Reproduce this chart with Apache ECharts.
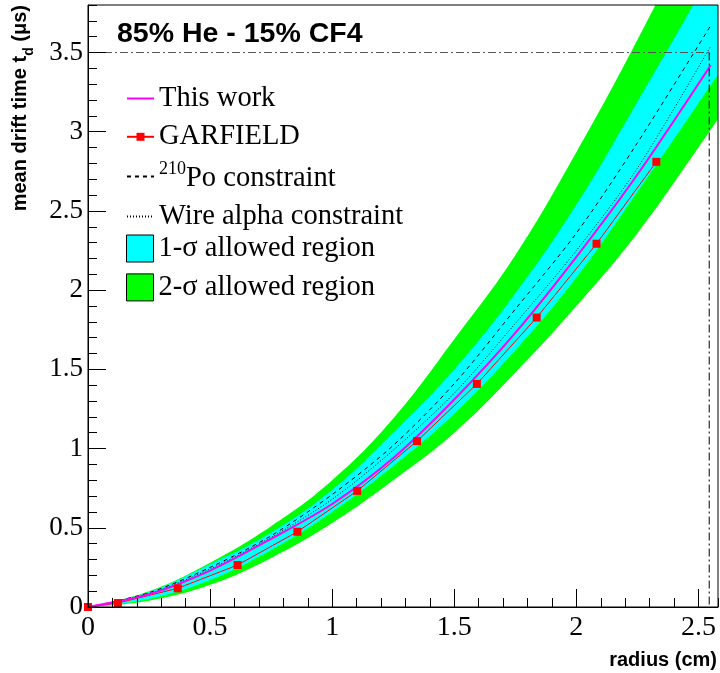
<!DOCTYPE html>
<html><head><meta charset="utf-8">
<script src="https://cdn.jsdelivr.net/npm/echarts@6/dist/echarts.min.js"></script>
<style>html,body{margin:0;padding:0;background:#fff}#c{width:720px;height:673px}</style>
</head><body><div id="c"></div>
<script>
// ---- data ----
const R_BAND   = [0, 0.25, 0.5, 0.75, 1.0, 1.25, 1.5, 1.75, 2.0, 2.25, 2.5, 2.58];
const GREEN_LO = [0, 0.04, 0.14, 0.31, 0.53, 0.80, 1.10, 1.48, 1.90, 2.36, 2.90, 3.08];
const GREEN_HI = [0, 0.10, 0.28, 0.51, 0.80, 1.19, 1.69, 2.22, 2.87, 3.58, 4.35, 4.62];
const CYAN_LO  = [0, 0.05, 0.17, 0.36, 0.60, 0.89, 1.22, 1.62, 2.08, 2.62, 3.18, 3.36];
const CYAN_HI  = [0, 0.095, 0.27, 0.47, 0.74, 1.10, 1.50, 1.98, 2.54, 3.19, 3.86, 4.10];

const R_LINE    = [0, 0.25, 0.5, 0.75, 1.0, 1.25, 1.5, 1.75, 2.0, 2.25, 2.55];
const THIS_WORK = [0, 0.08, 0.23, 0.43, 0.65, 0.94, 1.31, 1.73, 2.21, 2.73, 3.42];
const PO_CONSTR = [0, 0.09, 0.25, 0.45, 0.71, 1.02, 1.41, 1.88, 2.36, 2.93, 3.67];
const WIRE_CONSTR = [0, 0.085, 0.24, 0.44, 0.68, 0.99, 1.35, 1.79, 2.25, 2.77, 3.54];

const R_GARF = [0, 0.1225, 0.3675, 0.6125, 0.8575, 1.1025, 1.3475, 1.5925, 1.8375, 2.0825, 2.3275];
const GARF   = [0, 0.025, 0.118, 0.265, 0.475, 0.733, 1.047, 1.408, 1.827, 2.293, 2.81];

const REF_R = 2.544;   // dash-dotted vertical marker
const REF_T = 3.5;     // dash-dotted horizontal marker

const X_MIN = 0, X_MAX = 2.58, Y_MIN = 0, Y_MAX = 3.8;

const NAME_THIS = 'This work', NAME_GARF = 'GARFIELD', NAME_PO = '210Po constraint',
      NAME_WIRE = 'Wire alpha constraint', NAME_1S = '1-σ allowed region', NAME_2S = '2-σ allowed region';

// ---- helpers ----
const pairs = (xs, ys) => xs.map((x, i) => [x, ys[i]]);

const SERIF = '"Liberation Serif", "Times New Roman", serif';
const SANS = '"Liberation Sans", Arial, sans-serif';

const chart = echarts.init(document.getElementById('c'), null, {renderer: 'canvas'});

// Bands are painted as layered areas (each filled down to the axis):
// 2σ upper (green) -> 1σ upper (cyan) -> 1σ lower (green) -> 2σ lower (white)
const bandArea = (name, ys, color) => ({
  name, type: 'line', data: pairs(R_BAND, ys), symbol: 'none', silent: true,
  lineStyle: {width: 0, opacity: 0}, itemStyle: {color},
  areaStyle: {color, opacity: 1, origin: 'start'},
  smooth: 0.4, animation: false
});

const option = {
  animation: false,
  grid: {left: 88, right: 2, top: 5, bottom: 66, show: true, borderColor: '#000', borderWidth: 1, z: 5},
  xAxis: [{
    type: 'value', min: X_MIN, max: X_MAX, interval: 0.5, z: 6,
    axisLine: {show: true, onZero: false, lineStyle: {color: '#000', width: 1}},
    axisTick: {show: true, inside: true, length: 18, lineStyle: {color: '#000'}},
    minorTick: {show: false},
    splitLine: {show: false},
    axisLabel: {showMaxLabel: false, color: '#000', fontFamily: SERIF, fontSize: 28, margin: 7}
  }, {
    type: 'value', min: X_MIN, max: X_MAX, interval: 0.1, position: 'bottom', z: 6,
    axisLine: {show: false}, axisLabel: {show: false}, splitLine: {show: false},
    axisTick: {show: true, inside: true, length: 9, lineStyle: {color: '#000'}}
  }],
  yAxis: [{
    type: 'value', min: Y_MIN, max: Y_MAX, interval: 0.5, z: 6,
    axisLine: {show: true, onZero: false, lineStyle: {color: '#000', width: 1}},
    axisTick: {show: true, inside: true, length: 18, lineStyle: {color: '#000'}},
    minorTick: {show: false},
    splitLine: {show: false},
    axisLabel: {showMaxLabel: false, color: '#000', fontFamily: SERIF, fontSize: 27, margin: 5}
  }, {
    type: 'value', min: Y_MIN, max: Y_MAX, interval: 0.1, position: 'left', z: 6,
    axisLine: {show: false}, axisLabel: {show: false}, splitLine: {show: false},
    axisTick: {show: true, inside: true, length: 9, lineStyle: {color: '#000'}}
  }],
  legend: [{
    data: [
      {name: NAME_THIS, itemStyle: {opacity: 0}},
      {name: NAME_GARF},
      {name: NAME_PO, itemStyle: {opacity: 0}},
      {name: NAME_WIRE, itemStyle: {opacity: 0}}
    ],
    orient: 'vertical', left: 126, top: 84, padding: 0, itemWidth: 27, itemHeight: 10, itemGap: 9.3,
    selectedMode: false,
    formatter: n => n === NAME_PO ? '{sup|210}{t|Po constraint}' : n,
    textStyle: {
      fontFamily: SERIF, fontSize: 28.5, color: '#000',
      rich: {
        sup: {fontFamily: SERIF, fontSize: 18, color: '#000', verticalAlign: 'bottom', padding: [0, 0, 14, 0]},
        t: {fontFamily: SERIF, fontSize: 28.5, color: '#000', verticalAlign: 'bottom'}
      }
    }
  }, {
    data: [{name: NAME_1S, icon: 'rect'}, {name: NAME_2S, icon: 'rect'}],
    orient: 'vertical', left: 126, top: 234, padding: 0, itemWidth: 27, itemHeight: 27, itemGap: 9.9,
    selectedMode: false,
    itemStyle: {borderColor: '#000', borderWidth: 1},
    textStyle: {fontFamily: SERIF, fontSize: 28.5, color: '#000'}
  }],
  graphic: [
    {type: 'text', x: 117, y: 34, z: 20,
     style: {text: '85% He - 15% CF4', fontFamily: SANS, fontWeight: 'bold', fontSize: 28.5,
             fill: '#000', align: 'left', verticalAlign: 'middle'}},
    {type: 'text', x: 717, y: 660, z: 20,
     style: {text: 'radius (cm)', fontFamily: SANS, fontWeight: 'bold', fontSize: 20,
             fill: '#000', align: 'right', verticalAlign: 'middle'}},
    {type: 'text', x: 23, y: 5, rotation: Math.PI / 2, z: 20,
     style: {text: '{a|mean drift time t}{s|d}{a| (μs)}', align: 'right', verticalAlign: 'middle',
             rich: {
               a: {fontFamily: SANS, fontWeight: 'bold', fontSize: 20, fill: '#000', verticalAlign: 'bottom', padding: [0, 0, 6, 0]},
               s: {fontFamily: SANS, fontWeight: 'bold', fontSize: 14, fill: '#000', verticalAlign: 'bottom'}
             }}}
  ],
  series: [
    bandArea(NAME_2S, GREEN_HI, '#00ff00'),
    bandArea(NAME_1S, CYAN_HI, '#00ffff'),
    bandArea('_clo', CYAN_LO, '#00ff00'),
    bandArea('_glo', GREEN_LO, '#ffffff'),
    {name: NAME_PO, type: 'line', data: pairs(R_LINE, PO_CONSTR), symbol: 'none', smooth: 0.3,
     itemStyle: {color: '#000'}, lineStyle: {color: '#000', width: 1, type: [4, 4]}},
    {name: NAME_WIRE, type: 'line', data: pairs(R_LINE, WIRE_CONSTR), symbol: 'none', smooth: 0.3,
     itemStyle: {color: '#000'}, lineStyle: {color: '#000', width: 1, type: [1, 2]}},
    {name: NAME_GARF, type: 'line', data: pairs(R_GARF, GARF), symbol: 'rect', symbolSize: 8,
     itemStyle: {color: '#ff0000'}, lineStyle: {color: '#ff0000', width: 1}},
    {name: NAME_THIS, type: 'line', data: pairs(R_LINE, THIS_WORK), symbol: 'none', smooth: 0.3,
     itemStyle: {color: '#ff00ff'}, lineStyle: {color: '#ff00ff', width: 2}},
    {name: '_refH', type: 'line', data: [[X_MIN, REF_T], [REF_R, REF_T]], symbol: 'none',
     silent: true, lineStyle: {color: '#555', width: 1, type: [8, 3, 2, 3]}},
    {name: '_refV', type: 'line', data: [[REF_R, REF_T], [REF_R, Y_MIN]], symbol: 'none',
     silent: true, lineStyle: {color: '#000', width: 1, type: [8, 3, 2, 3]}}
  ]
};
chart.setOption(option);
</script>
</body></html>
